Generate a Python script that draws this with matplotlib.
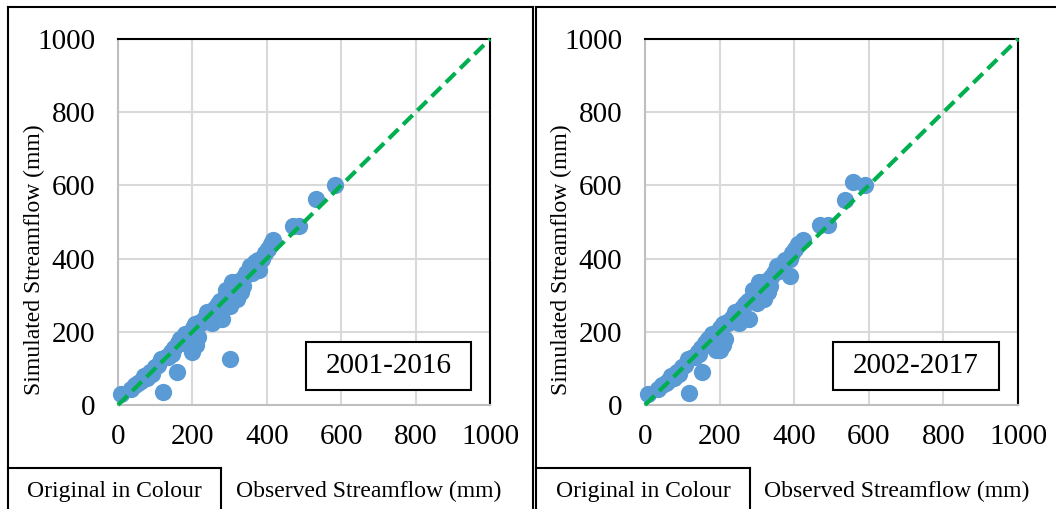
import matplotlib
matplotlib.use("Agg")
import matplotlib.pyplot as plt
from matplotlib.patches import Rectangle
from matplotlib.lines import Line2D

plt.rcParams['font.family'] = ['Liberation Serif', 'DejaVu Serif']

# ---------------- data ----------------
obs_left = [8, 35, 45, 55, 62, 70, 78, 85, 92, 100, 108, 115, 121, 128, 135, 142, 150, 159,
            160, 168, 175, 182, 190, 196, 200, 202, 208, 215, 222, 230, 238, 245, 252, 260,
            268, 275, 280, 285, 292, 300, 301, 306, 312, 318, 325, 330, 338, 345, 352, 360,
            368, 375, 380, 388, 395, 402, 410, 418, 470, 487, 532, 583,
            215, 240, 260, 290, 320, 335, 355, 365, 210, 180, 145]
sim_left = [30, 45, 55, 60, 65, 80, 75, 90, 85, 105, 110, 125, 36, 130, 130, 145, 155, 90,
            170, 180, 170, 185, 175, 200, 145, 210, 220, 185, 225, 235, 245, 250, 225, 265,
            275, 285, 235, 290, 300, 125, 270, 335, 300, 330, 340, 310, 350, 360, 370, 360,
            390, 395, 370, 400, 415, 425, 440, 450, 490, 490, 563, 600,
            225, 255, 245, 315, 290, 325, 380, 375, 165, 195, 140]

obs_right = [8, 35, 45, 55, 62, 70, 78, 85, 92, 100, 108, 115, 118, 128, 135, 142, 150, 153,
             160, 168, 175, 182, 190, 196, 200, 202, 208, 215, 222, 230, 238, 245, 252, 260,
             268, 275, 280, 285, 292, 300, 301, 306, 312, 318, 325, 330, 338, 345, 352, 360,
             368, 375, 389, 388, 395, 402, 410, 424, 469, 491, 536, 558, 590,
             215, 240, 260, 290, 320, 335, 355, 365, 210, 180, 145]
sim_right = [30, 45, 55, 60, 65, 80, 75, 90, 85, 105, 110, 125, 33, 130, 130, 145, 155, 90,
             170, 180, 165, 185, 150, 200, 150, 210, 220, 180, 225, 235, 245, 250, 225, 265,
             275, 285, 235, 290, 300, 285, 280, 335, 300, 330, 340, 310, 350, 360, 370, 365,
             385, 395, 352, 400, 415, 425, 440, 451, 492, 492, 560, 609, 601,
             225, 255, 245, 315, 290, 325, 380, 375, 165, 195, 140]

ticks = [0, 200, 400, 600, 800, 1000]
period_labels = ["2001-2016", "2002-2017"]
xlabel = "Observed Streamflow (mm)"
ylabel = "Simulated Streamflow (mm)"
badge = "Original in Colour"

W, H = 1056, 509
fig = plt.figure(figsize=(W / 100, H / 100), dpi=100)

def fx(px):
    return px / W

def fy(py):
    return 1 - py / H

# panel frames
frame_kw = dict(color='black', lw=1.5, transform=fig.transFigure)
fig.add_artist(Line2D([fx(8), fx(8)], [fy(7), fy(509)], **frame_kw))
fig.add_artist(Line2D([fx(8), fx(533)], [fy(7), fy(7)], **frame_kw))
fig.add_artist(Line2D([fx(533), fx(533)], [fy(7), fy(509)], **frame_kw))
fig.add_artist(Line2D([fx(536), fx(536)], [fy(7), fy(509)], **frame_kw))
fig.add_artist(Line2D([fx(536), fx(1056)], [fy(7), fy(7)], **frame_kw))

# badge boxes
for x0, x1 in [(8, 221), (536, 750)]:
    fig.add_artist(Line2D([fx(x0), fx(x1)], [fy(468), fy(468)], **frame_kw))
    fig.add_artist(Line2D([fx(x1), fx(x1)], [fy(468), fy(509)], **frame_kw))
    fig.text(fx((x0 + x1) / 2), fy(491), badge, ha='center', va='center', fontsize=17)

panels = [
    (118, 490, obs_left, sim_left, period_labels[0]),
    (645, 1018, obs_right, sim_right, period_labels[1]),
]

for (x0, x1, obs, sim, lab) in panels:
    ax = fig.add_axes([fx(x0), fy(405), fx(x1) - fx(x0), (405 - 39) / H])
    ax.set_xlim(0, 1000)
    ax.set_ylim(0, 1000)
    ax.set_xticks(ticks)
    ax.set_yticks(ticks)
    ax.grid(True, color='#d9d9d9', lw=1.5)
    ax.set_axisbelow(True)
    ax.tick_params(length=0, labelsize=21)
    ax.tick_params(axis='x', pad=14)
    ax.tick_params(axis='y', pad=16.5)
    for s in ['top', 'right']:
        ax.spines[s].set_color('black')
        ax.spines[s].set_linewidth(1.5)
    for s in ['left', 'bottom']:
        ax.spines[s].set_color('#bfbfbf')
        ax.spines[s].set_linewidth(1.5)
    ax.scatter(obs, sim, s=155, color='#5b9bd5', zorder=3, clip_on=False, linewidths=0)
    ax.plot([0, 1000], [0, 1000], color='#00b050', lw=3, ls=(0, (3.2, 1.6)), zorder=4, clip_on=False)
    ax.set_ylabel(ylabel, fontsize=17)
    ax.yaxis.set_label_coords(-0.225, 0.396)
    ax.set_xlabel(xlabel, fontsize=17)
    ax.xaxis.set_label_coords(0.675, -0.235)
    ax.xaxis.label.set_va('center')
    ax.yaxis.label.set_va('center')
    ax.add_patch(Rectangle((505, 41), 444, 131, facecolor='white', edgecolor='black', lw=1.5, zorder=5))
    ax.text(727, 106, lab, ha='center', va='center', fontsize=21, zorder=6)

fig.savefig("out.png", dpi=100)
